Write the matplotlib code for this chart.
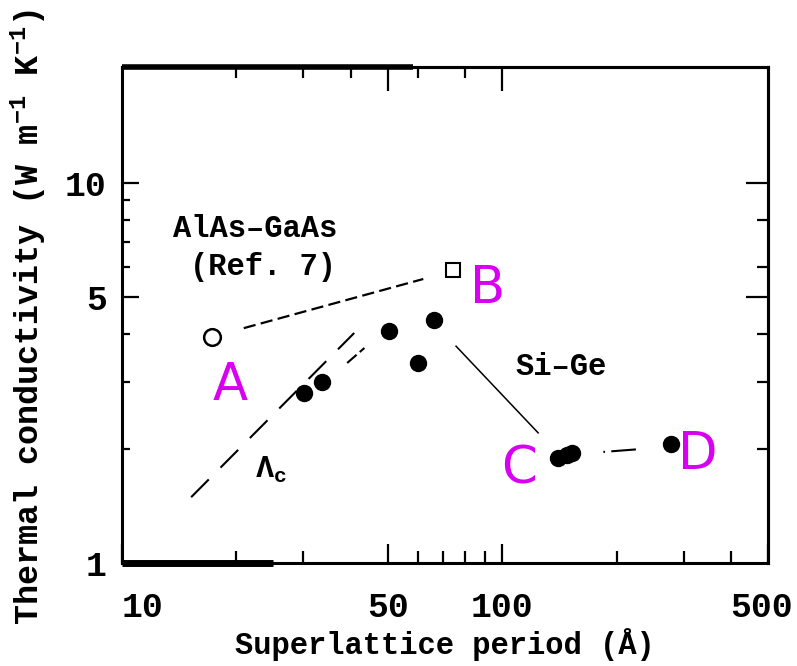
import numpy as np
from matplotlib import pyplot as plt
from matplotlib.ticker import FixedLocator, NullFormatter
from matplotlib.transforms import ScaledTranslation

plt.rcParams['font.family'] = ['Liberation Mono', 'DejaVu Sans Mono']
plt.rcParams['font.weight'] = 'bold'
plt.rcParams['axes.labelweight'] = 'bold'
plt.rcParams['mathtext.fontset'] = 'custom'
plt.rcParams['mathtext.rm'] = 'Liberation Mono:bold'
plt.rcParams['mathtext.it'] = 'Liberation Mono:bold'

MAGENTA = '#d800f0'

# AlAs-GaAs reference points (Ref. 7)
alas_open_circle = ([17.2], [3.93])
alas_open_square = ([74.3], [5.90])

# Si-Ge superlattice measurements
sige_period = [30.1, 33.6, 50.4, 60.1, 66.2, 140.4, 148.3, 153.0, 278.5]
sige_kappa = [2.80, 2.99, 4.08, 3.36, 4.36, 1.89, 1.92, 1.95, 2.06]

# guide lines
alas_line_x = [20.9, 62.0]
alas_line_y = [4.15, 5.59]
lamc_line_x = [15.2, 40.8]
lamc_line_y = [1.49, 4.03]
lamc_line2_x = [39.1, 43.4]
lamc_line2_y = [3.36, 3.68]
sige_line_x = [75.6, 124.3]
sige_line_y = [3.72, 2.20]
cd_line_x = [184.5, 224.7]
cd_line_y = [1.96, 1.99]

# annotation labels
point_labels = ['A', 'B', 'C', 'D']
point_label_x = [19.2, 91.3, 110.9, 326.0]
point_label_y = [2.92, 5.26, 1.76, 1.92]

fig = plt.figure(figsize=(7.97, 6.66), dpi=100)
ax = fig.add_axes([0.1531, 0.1547, 0.8105, 0.7447])
ax.set_xscale('log')
ax.set_yscale('log')
ax.set_xlim(10, 500)
ax.set_ylim(1, 20.2)

ax.plot(*alas_open_circle, 'o', mfc='white', mec='black', ms=12, mew=1.8)
ax.plot(*alas_open_square, 's', mfc='white', mec='black', ms=10.5, mew=1.5)
ax.plot(sige_period, sige_kappa, 'o', color='black', ms=11.5)

ax.plot(alas_line_x, alas_line_y, color='black', lw=1.6, dashes=(5.5, 2.4))
ax.plot(lamc_line_x, lamc_line_y, color='black', lw=1.5, dashes=(12, 8))
ax.plot(lamc_line2_x, lamc_line2_y, color='black', lw=1.5, dashes=(6, 2))
ax.plot(sige_line_x, sige_line_y, color='black', lw=1.1)
ax.plot(cd_line_x, cd_line_y, color='black', lw=1.5, dashes=(0.8, 3, 12, 10))

ax.text(22.4, 7.57, 'AlAs–GaAs', fontsize=22, ha='center', va='center')
ax.text(23.5, 6.01, '(Ref. 7)', fontsize=22, ha='center', va='center')
ax.text(143, 3.28, 'Si–Ge', fontsize=22, ha='center', va='center')
ax.text(24.7, 1.76, r'$\Lambda_{\rm c}$', fontsize=22, ha='center', va='center')

for lab, lx, ly in zip(point_labels, point_label_x, point_label_y):
    ax.text(lx, ly, lab, fontsize=37, color=MAGENTA, family='DejaVu Sans',
            weight='normal', ha='center', va='center')

# bottom / left ticks
ax.xaxis.set_major_locator(FixedLocator([10, 50, 100, 500]))
ax.xaxis.set_minor_locator(FixedLocator([20, 30, 60, 70, 80, 90, 200, 300, 400]))
ax.set_xticklabels(['10', '50', '100', '500'])
ax.xaxis.set_minor_formatter(NullFormatter())
ax.yaxis.set_major_locator(FixedLocator([1, 5, 10]))
ax.yaxis.set_minor_locator(FixedLocator([2, 3, 4, 6, 7, 8, 9]))
ax.set_yticklabels(['1', '5', '10'])
ax.yaxis.set_minor_formatter(NullFormatter())
ax.tick_params(axis='x', which='major', direction='in', length=14, width=1.6,
               labelsize=25, pad=20)
ax.tick_params(axis='x', which='minor', direction='in', length=9, width=1.6)
ax.tick_params(axis='y', which='major', direction='in', length=12, width=1.6,
               labelsize=25, pad=11)
ax.tick_params(axis='y', which='minor', direction='in', length=6, width=1.6)
xlabs = ax.get_xticklabels()
xlabs[0].set_ha('left')
xlabs[-1].set_transform(xlabs[-1].get_transform()
                        + ScaledTranslation(-6 / 100, 0, fig.dpi_scale_trans))

# top / right ticks
top = ax.secondary_xaxis('top')
top.xaxis.set_major_locator(FixedLocator([50, 100]))
top.xaxis.set_minor_locator(FixedLocator([20, 30, 40, 60, 80]))
top.xaxis.set_major_formatter(NullFormatter())
top.xaxis.set_minor_formatter(NullFormatter())
top.tick_params(which='major', direction='in', length=17, width=1.6)
top.tick_params(which='minor', direction='in', length=8, width=1.6)
top.spines['top'].set_linewidth(2.2)

right = ax.secondary_yaxis('right')
right.yaxis.set_major_locator(FixedLocator([5, 10]))
right.yaxis.set_minor_locator(FixedLocator([2, 3, 4, 6, 8]))
right.yaxis.set_major_formatter(NullFormatter())
right.yaxis.set_minor_formatter(NullFormatter())
right.tick_params(which='major', direction='in', length=16, width=1.6)
right.tick_params(which='minor', direction='in', length=8, width=1.6)
right.spines['right'].set_linewidth(2.2)

for s in ax.spines.values():
    s.set_linewidth(2.2)

# heavier scan segments along the frame
ax.plot([0, 0.234], [0, 0], color='black', lw=5, transform=ax.transAxes,
        clip_on=False, solid_capstyle='butt')
ax.plot([0, 0.45], [1, 1], color='black', lw=4, transform=ax.transAxes,
        clip_on=False, solid_capstyle='butt')

ax.set_xlabel('Superlattice period (Å)', fontsize=22)
ax.set_ylabel(r'Thermal conductivity (W m$^{-1}$ K$^{-1}$)', fontsize=24)
ax.xaxis.set_label_coords(0.5, -0.132)
ax.yaxis.set_label_coords(-0.113, 0.496)

fig.savefig('out.png', dpi=100)
